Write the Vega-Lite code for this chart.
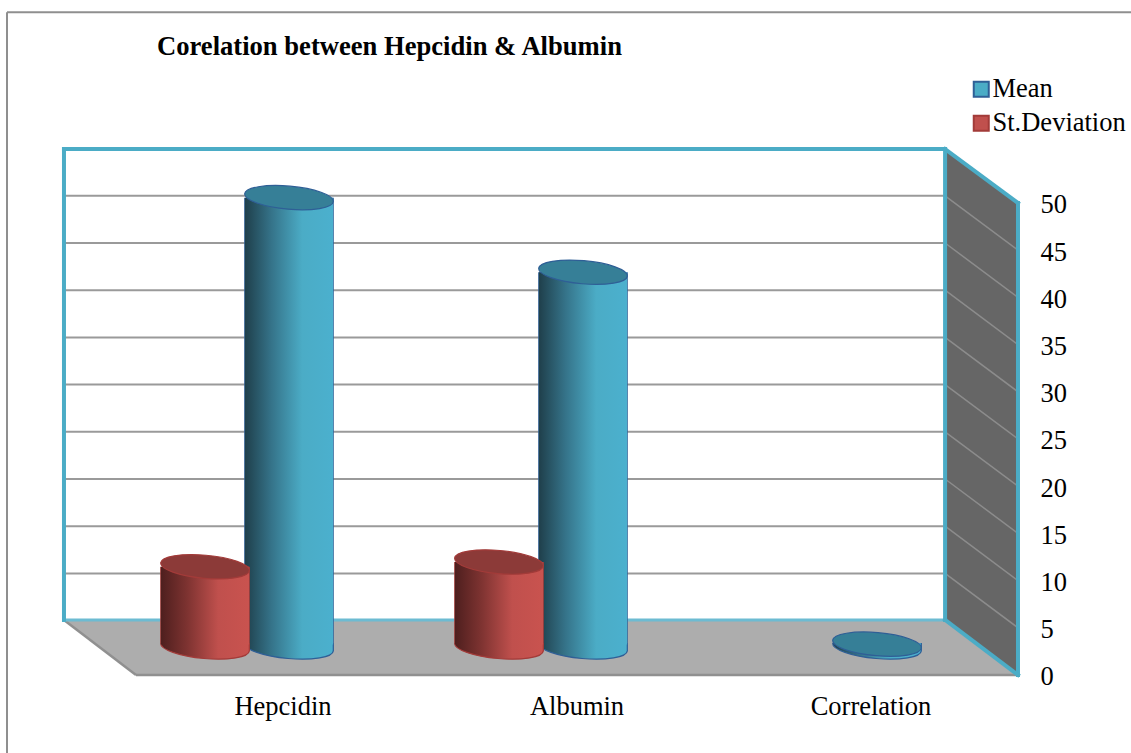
{
  "$schema": "https://vega.github.io/schema/vega-lite/v6.json",
  "width": 1131,
  "height": 753,
  "padding": 0,
  "autosize": "none",
  "background": "white",
  "config": {"view": {"stroke": null}, "font": "Liberation Serif"},
  "title": {
    "text": "Corelation between Hepcidin & Albumin",
    "anchor": "start",
    "dx": 157,
    "offset": -82,
    "baseline": "alphabetic",
    "font": "Liberation Serif",
    "fontSize": 26.6,
    "fontWeight": "bold",
    "color": "#000000"
  },
  "datasets": {
    "readings": [
      {"category": "Hepcidin", "series": "St.Deviation", "value": 8.5},
      {"category": "Hepcidin", "series": "Mean", "value": 47.6},
      {"category": "Albumin", "series": "St.Deviation", "value": 9.0},
      {"category": "Albumin", "series": "Mean", "value": 39.7},
      {"category": "Correlation", "series": "Mean", "value": 0.3}
    ],
    "backGrid": [
      {"level": 5, "across": -0.245, "height": 10.76}, {"level": 5, "across": 2.752, "height": 10.76},
      {"level": 10, "across": -0.245, "height": 15.76}, {"level": 10, "across": 2.752, "height": 15.76},
      {"level": 15, "across": -0.245, "height": 20.76}, {"level": 15, "across": 2.752, "height": 20.76},
      {"level": 20, "across": -0.245, "height": 25.76}, {"level": 20, "across": 2.752, "height": 25.76},
      {"level": 25, "across": -0.245, "height": 30.76}, {"level": 25, "across": 2.752, "height": 30.76},
      {"level": 30, "across": -0.245, "height": 35.76}, {"level": 30, "across": 2.752, "height": 35.76},
      {"level": 35, "across": -0.245, "height": 40.76}, {"level": 35, "across": 2.752, "height": 40.76},
      {"level": 40, "across": -0.245, "height": 45.76}, {"level": 40, "across": 2.752, "height": 45.76},
      {"level": 45, "across": -0.245, "height": 50.76}, {"level": 45, "across": 2.752, "height": 50.76}
    ],
    "sideGrid": [
      {"level": 5, "across": 2.752, "height": 10.76}, {"level": 5, "across": 3, "height": 5},
      {"level": 10, "across": 2.752, "height": 15.76}, {"level": 10, "across": 3, "height": 10},
      {"level": 15, "across": 2.752, "height": 20.76}, {"level": 15, "across": 3, "height": 15},
      {"level": 20, "across": 2.752, "height": 25.76}, {"level": 20, "across": 3, "height": 20},
      {"level": 25, "across": 2.752, "height": 30.76}, {"level": 25, "across": 3, "height": 25},
      {"level": 30, "across": 2.752, "height": 35.76}, {"level": 30, "across": 3, "height": 30},
      {"level": 35, "across": 2.752, "height": 40.76}, {"level": 35, "across": 3, "height": 35},
      {"level": 40, "across": 2.752, "height": 45.76}, {"level": 40, "across": 3, "height": 40},
      {"level": 45, "across": 2.752, "height": 50.76}, {"level": 45, "across": 3, "height": 45}
    ],
    "floor": [
      {"across": -0.245, "upper": 5.83, "lower": 5.83},
      {"across": 0, "upper": 5.83, "lower": 0},
      {"across": 2.752, "upper": 5.83, "lower": 0},
      {"across": 3, "upper": 0, "lower": 0}
    ],
    "sideWall": [
      {"across": 2.752, "upper": 55.72, "lower": 5.83},
      {"across": 3, "upper": 50, "lower": 0}
    ],
    "edges": [
      {"edge": "left", "kind": "rim", "across": -0.245, "height": 5.83},
      {"edge": "left", "kind": "rim", "across": -0.245, "height": 55.72},
      {"edge": "top", "kind": "rim", "across": -0.245, "height": 55.72},
      {"edge": "top", "kind": "rim", "across": 2.752, "height": 55.72},
      {"edge": "corner", "kind": "rim", "across": 2.752, "height": 55.72},
      {"edge": "corner", "kind": "rim", "across": 2.752, "height": 5.83},
      {"edge": "slope", "kind": "rim", "across": 2.752, "height": 55.72},
      {"edge": "slope", "kind": "rim", "across": 3, "height": 50},
      {"edge": "right", "kind": "rim", "across": 3, "height": 50},
      {"edge": "right", "kind": "rim", "across": 3, "height": 0},
      {"edge": "foot", "kind": "rim", "across": 2.752, "height": 5.83},
      {"edge": "foot", "kind": "rim", "across": 3, "height": 0},
      {"edge": "back", "kind": "seam", "across": -0.245, "height": 5.83},
      {"edge": "back", "kind": "seam", "across": 2.752, "height": 5.83},
      {"edge": "floorLeft", "kind": "floor", "across": -0.245, "height": 5.83},
      {"edge": "floorLeft", "kind": "floor", "across": 0, "height": 0},
      {"edge": "floorFront", "kind": "floor", "across": 0, "height": 0},
      {"edge": "floorFront", "kind": "floor", "across": 3, "height": 0}
    ],
    "border": [
      {"side": "left", "across": -0.4388, "height": 70.2},
      {"side": "left", "across": -0.4388, "height": -8.26},
      {"side": "top", "across": -0.4388, "height": 70.2},
      {"side": "top", "across": 3.3844, "height": 70.2}
    ]
  },
  "layer": [
    {
      "encoding": {
        "x": {
          "field": "across",
          "type": "quantitative",
          "axis": null,
          "scale": {"domain": [-0.4626, 3.3844], "nice": false, "zero": false}
        }
      },
      "layer": [
        {
          "data": {"name": "border"},
          "mark": {"type": "line", "stroke": "#8f8f8f", "strokeWidth": 2},
          "encoding": {
            "y": {
              "field": "height",
              "type": "quantitative",
              "title": null,
              "scale": {"domain": [-8.263, 71.504], "nice": false, "zero": false},
              "axis": {
                "orient": "right",
                "offset": -91,
                "values": [0, 5, 10, 15, 20, 25, 30, 35, 40, 45, 50],
                "domain": false,
                "ticks": false,
                "grid": false,
                "labelPadding": 0,
                "labelOffset": 2,
                "labelFont": "Liberation Serif",
                "labelFontSize": 26.5,
                "labelColor": "#000000"
              }
            },
            "detail": {"field": "side"}
          }
        },
        {
          "data": {"name": "floor"},
          "mark": {"type": "area", "fill": "#adadad"},
          "encoding": {
            "y": {"field": "upper", "type": "quantitative", "title": null},
            "y2": {"field": "lower"}
          }
        },
        {
          "data": {"name": "sideWall"},
          "mark": {"type": "area", "fill": "#666666"},
          "encoding": {
            "y": {"field": "upper", "type": "quantitative", "title": null},
            "y2": {"field": "lower"}
          }
        },
        {
          "data": {"name": "backGrid"},
          "mark": {"type": "line", "stroke": "#9a9a9a", "strokeWidth": 2},
          "encoding": {
            "y": {"field": "height", "type": "quantitative", "title": null},
            "detail": {"field": "level"}
          }
        },
        {
          "data": {"name": "sideGrid"},
          "mark": {"type": "line", "stroke": "#8c8c8c", "strokeWidth": 1.5},
          "encoding": {
            "y": {"field": "height", "type": "quantitative", "title": null},
            "detail": {"field": "level"}
          }
        },
        {
          "data": {"name": "edges"},
          "transform": [{"filter": "datum.kind === 'floor'"}],
          "mark": {"type": "line", "stroke": "#909090", "strokeWidth": 2.5},
          "encoding": {
            "y": {"field": "height", "type": "quantitative", "title": null},
            "detail": {"field": "edge"}
          }
        },
        {
          "data": {"name": "edges"},
          "transform": [{"filter": "datum.kind === 'seam'"}],
          "mark": {"type": "line", "stroke": "#6dbbd2", "strokeWidth": 3},
          "encoding": {
            "y": {"field": "height", "type": "quantitative", "title": null},
            "detail": {"field": "edge"}
          }
        },
        {
          "data": {"name": "edges"},
          "transform": [{"filter": "datum.kind === 'rim'"}],
          "mark": {"type": "line", "stroke": "#4bacc6", "strokeWidth": 4, "strokeCap": "square"},
          "encoding": {
            "y": {"field": "height", "type": "quantitative", "title": null},
            "detail": {"field": "edge"}
          }
        }
      ]
    },
    {
      "data": {"name": "readings"},
      "encoding": {
        "x": {
          "field": "category",
          "type": "nominal",
          "sort": null,
          "title": null,
          "scale": {
            "domain": ["Hepcidin", "Albumin", "Correlation"],
            "range": [136, 1018],
            "paddingInner": 0,
            "paddingOuter": 0
          },
          "axis": {
            "orient": "bottom",
            "offset": -60,
            "domain": false,
            "ticks": false,
            "labelPadding": 0,
            "labelAngle": 0,
            "labelFont": "Liberation Serif",
            "labelFontSize": 26.5,
            "labelColor": "#000000"
          }
        },
        "y": {"field": "value", "type": "quantitative", "title": null}
      },
      "layer": [
        {
          "mark": {"type": "point", "filled": true, "size": 0, "opacity": 1},
          "encoding": {
            "fill": {
              "field": "series",
              "type": "nominal",
              "scale": {"domain": ["Mean", "St.Deviation"], "range": ["#4bacc6", "#c0504d"]},
              "legend": {
                "orient": "none",
                "legendX": 968,
                "legendY": 76,
                "title": null,
                "symbolType": "square",
                "symbolSize": 225,
                "symbolOpacity": 1,
                "symbolStrokeWidth": 2,
                "rowPadding": 7,
                "labelFont": "Liberation Serif",
                "labelFontSize": 26.5,
                "labelColor": "#000000",
                "labelOffset": -2,
                "labelLimit": 200,
                "encode": {
                  "symbols": {"update": {"fillOpacity": {"value": 1}, "strokeOpacity": {"value": 1}, "opacity": {"value": 1}}}
                }
              }
            },
            "stroke": {
              "field": "series",
              "type": "nominal",
              "scale": {"domain": ["Mean", "St.Deviation"], "range": ["#2f5f96", "#a23b39"]}
            }
          }
        },
        {
          "transform": [{"filter": "datum.series === 'Mean'"}],
          "layer": [
            {
              "transform": [{"filter": "datum.value > 2"}],
              "mark": {"type": "bar", "fill": "#2f5f96", "size": 89.6, "xOffset": 6, "yOffset": -28, "y2Offset": -32},
              "encoding": {"y2": {"datum": 0}}
            },
            {
              "mark": {
                "type": "point", "filled": true, "size": 7921, "xOffset": 6, "yOffset": -28,
                "shape": "M-0.9962,-0.0872L-0.9962,-0.0872A1,0.26 5 0,0 0.9962,0.0872L0.9962,-0.0872",
                "stroke": "#2f5f96", "strokeWidth": 1.2, "opacity": 1,
                "fill": {"gradient": "linear", "x1": 0, "y1": 0, "x2": 1, "y2": 0, "stops": [
                  {"offset": 0, "color": "#1f3f4b"}, {"offset": 0.3, "color": "#357389"},
                  {"offset": 0.65, "color": "#4bacc6"}, {"offset": 1, "color": "#4bb0ce"}
                ]}
              },
              "encoding": {"y": {"datum": 0}}
            },
            {
              "transform": [{"filter": "datum.value > 2"}],
              "mark": {
                "type": "bar", "size": 88.2, "xOffset": 6, "yOffset": -28, "y2Offset": -30.5,
                "fill": {"gradient": "linear", "x1": 0, "y1": 0, "x2": 1, "y2": 0, "stops": [
                  {"offset": 0, "color": "#1f3f4b"}, {"offset": 0.3, "color": "#357389"},
                  {"offset": 0.65, "color": "#4bacc6"}, {"offset": 1, "color": "#4bb0ce"}
                ]}
              },
              "encoding": {"y2": {"datum": 0}}
            },
            {
              "mark": {
                "type": "point", "filled": true, "size": 7921, "xOffset": 6, "yOffset": -28,
                "shape": "M-0.9962,-0.0872A1,0.26 5 1,1 0.9962,0.0872A1,0.26 5 1,1 -0.9962,-0.0872Z",
                "fill": "#367f97", "stroke": "#2f5f96", "strokeWidth": 1.2, "opacity": 1
              }
            }
          ]
        },
        {
          "transform": [{"filter": "datum.series === 'St.Deviation'"}],
          "layer": [
            {
              "mark": {"type": "bar", "fill": "#a23b39", "size": 89.6, "xOffset": -78, "yOffset": -28, "y2Offset": -32},
              "encoding": {"y2": {"datum": 0}}
            },
            {
              "mark": {
                "type": "point", "filled": true, "size": 7921, "xOffset": -78, "yOffset": -28,
                "shape": "M-0.9962,-0.0872L-0.9962,-0.0872A1,0.26 5 0,0 0.9962,0.0872L0.9962,-0.0872",
                "stroke": "#a23b39", "strokeWidth": 1.2, "opacity": 1,
                "fill": {"gradient": "linear", "x1": 0, "y1": 0, "x2": 1, "y2": 0, "stops": [
                  {"offset": 0, "color": "#4e1f1e"}, {"offset": 0.3, "color": "#7e3331"},
                  {"offset": 0.65, "color": "#c0504d"}, {"offset": 1, "color": "#c9534f"}
                ]}
              },
              "encoding": {"y": {"datum": 0}}
            },
            {
              "mark": {
                "type": "bar", "size": 88.2, "xOffset": -78, "yOffset": -28, "y2Offset": -30.5,
                "fill": {"gradient": "linear", "x1": 0, "y1": 0, "x2": 1, "y2": 0, "stops": [
                  {"offset": 0, "color": "#4e1f1e"}, {"offset": 0.3, "color": "#7e3331"},
                  {"offset": 0.65, "color": "#c0504d"}, {"offset": 1, "color": "#c9534f"}
                ]}
              },
              "encoding": {"y2": {"datum": 0}}
            },
            {
              "mark": {
                "type": "point", "filled": true, "size": 7921, "xOffset": -78, "yOffset": -28,
                "shape": "M-0.9962,-0.0872A1,0.26 5 1,1 0.9962,0.0872A1,0.26 5 1,1 -0.9962,-0.0872Z",
                "fill": "#8c3a38", "stroke": "#a23b39", "strokeWidth": 1.2, "opacity": 1
              }
            }
          ]
        }
      ]
    }
  ],
  "resolve": {"scale": {"x": "independent", "fill": "shared", "stroke": "shared"}}
}
